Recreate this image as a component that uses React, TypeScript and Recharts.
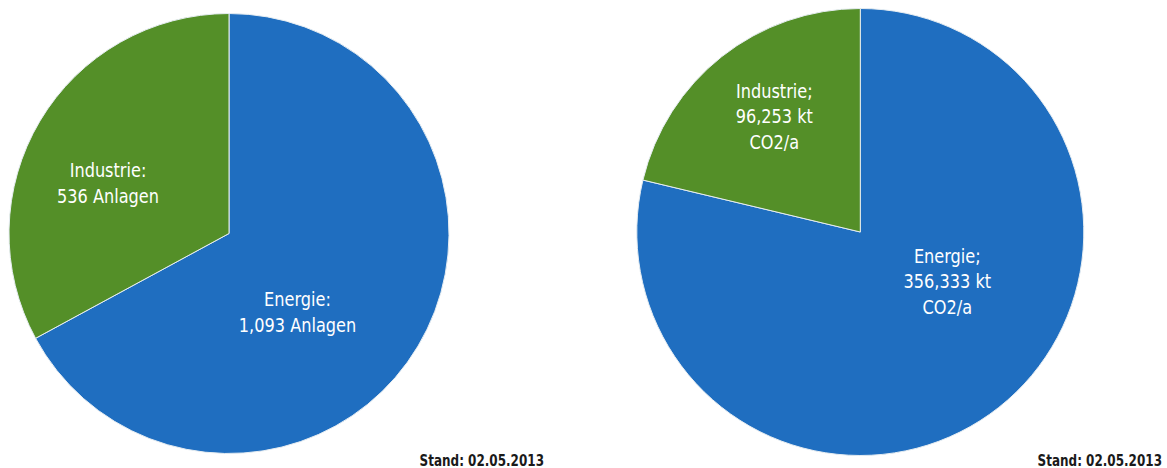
import React from 'react';
import { PieChart, Pie, Cell } from 'recharts';

// Anlagen nach Sektor
const anlagenNamen = ['Energie', 'Industrie'];
const anlagenWerte = [1093, 536];
const anlagenTexte = [['Energie:', '1,093 Anlagen'], ['Industrie:', '536 Anlagen']];

// Emissionen nach Sektor (kt CO2/a)
const emissionNamen = ['Energie', 'Industrie'];
const emissionWerte = [356333, 96253];
const emissionTexte = [
  ['Energie;', '356,333 kt', 'CO2/a'],
  ['Industrie;', '96,253 kt', 'CO2/a'],
];

const standText = 'Stand: 02.05.2013';

const COLORS = ['#1F6EC0', '#548F28'];
const FONT = '"DejaVu Sans", sans-serif';

const anlagenData = anlagenNamen.map((name, i) => ({ name, value: anlagenWerte[i] }));
const emissionData = emissionNamen.map((name, i) => ({ name, value: emissionWerte[i] }));

// label anchor relative to the pie centre: [dx, dy of first baseline]
const anlagenOffsets = [
  [68.5, 72.5],
  [-121, -56.5],
];
const emissionOffsets = [
  [87, 31],
  [-86, -134],
];

// no narrow face installed, so squeeze the text horizontally
const NARROW = 0.85;

const makeLabel =
  (texte: string[][], offsets: number[][], lineHeight: number) =>
  (props: any) => {
    const { cx, cy, index } = props;
    const [dx, dy] = offsets[index];
    return (
      <text
        transform={`translate(${cx + dx},${cy + dy}) scale(${NARROW},1)`}
        textAnchor="middle"
        fill="#ffffff"
        fontFamily={FONT}
        fontSize={19}
      >
        {texte[index].map((line, j) => (
          <tspan key={j} x={0} dy={j === 0 ? 0 : lineHeight}>
            {line}
          </tspan>
        ))}
      </text>
    );
  };

const Stand = ({ x }: { x: number }) => (
  <text
    transform={`translate(${x},466) scale(0.8,1)`}
    textAnchor="end"
    fill="#1a1a1a"
    fontFamily={FONT}
    fontWeight="bold"
    fontSize={15}
  >
    {standText}
  </text>
);

export default function App() {
  return (
    <div style={{ position: 'absolute', left: 0, top: 0, width: 1167, height: 468, background: '#fff' }}>
      <PieChart width={1167} height={468} margin={{ top: 0, right: 0, bottom: 0, left: 0 }}>
        <Pie
          data={anlagenData}
          dataKey="value"
          nameKey="name"
          cx={229}
          cy={233.5}
          outerRadius={220}
          startAngle={90}
          endAngle={-270}
          stroke="#e6edf2"
          strokeWidth={1}
          label={makeLabel(anlagenTexte, anlagenOffsets, 26)}
          labelLine={false}
          isAnimationActive={false}
        >
          {anlagenData.map((d, i) => (
            <Cell key={d.name} fill={COLORS[i]} />
          ))}
        </Pie>
        <Pie
          data={emissionData}
          dataKey="value"
          nameKey="name"
          cx={860.3}
          cy={232}
          outerRadius={223.5}
          startAngle={90}
          endAngle={-270}
          stroke="#e6edf2"
          strokeWidth={1}
          label={makeLabel(emissionTexte, emissionOffsets, 25.5)}
          labelLine={false}
          isAnimationActive={false}
        >
          {emissionData.map((d, i) => (
            <Cell key={d.name} fill={COLORS[i]} />
          ))}
        </Pie>
        <Stand x={544} />
        <Stand x={1162} />
      </PieChart>
    </div>
  );
}
